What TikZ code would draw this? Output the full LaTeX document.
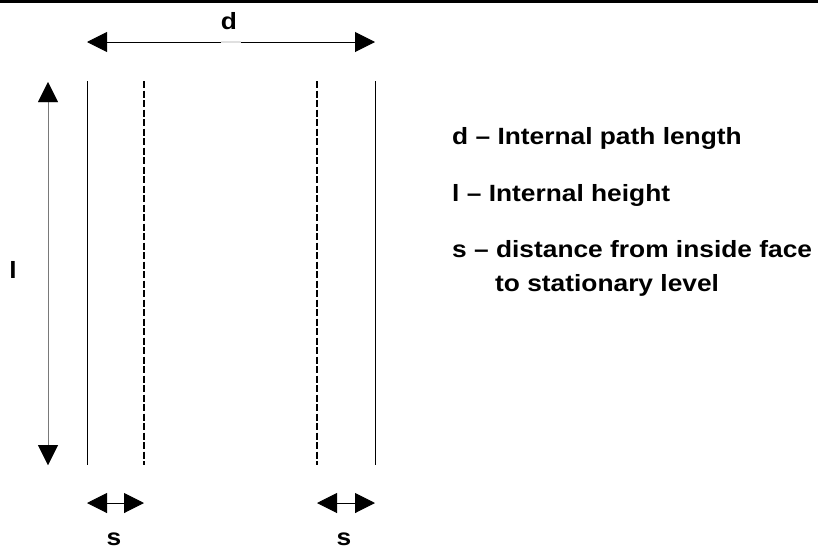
\documentclass[tikz,border=0pt]{standalone}
\usepackage{fontspec}
\setmainfont{Liberation Sans}
\newfontfamily\lgdfont[FakeStretch=1.12]{Liberation Sans}
\usetikzlibrary{arrows.meta}
\begin{document}
\begin{tikzpicture}[x=1pt,y=-1pt,
  txt/.style={font=\lgdfont\fontsize{23.5}{28}\selectfont\bfseries, inner sep=0pt, anchor=base west},
  lbl/.style={font=\lgdfont\fontsize{23.5}{28}\selectfont\bfseries, inner sep=0pt, anchor=base},
  dim/.style={{Triangle[length=20pt,width=20pt]}-{Triangle[length=20pt,width=20pt]}, line width=1pt},
  wall/.style={line width=1pt},
  stat/.style={line width=1.4pt, dash pattern=on 7pt off 2.5pt}]
\useasboundingbox (0,0) rectangle (818,549);
% top rule
\draw[line width=3pt] (0,1.5) -- (818,1.5);
% coordinates
\coordinate (dL) at (87,42);
\coordinate (dR) at (375,42);
\coordinate (lT) at (48,82);
\coordinate (lB) at (48,465);
\coordinate (w1t) at (87,81);  \coordinate (w1b) at (87,465);
\coordinate (s1t) at (144,81); \coordinate (s1b) at (144,465);
\coordinate (s2t) at (317,81); \coordinate (s2b) at (317,465);
\coordinate (w2t) at (375,81); \coordinate (w2b) at (375,465);
\coordinate (a1) at (87,503);  \coordinate (a2) at (144,503);
\coordinate (b1) at (317,503); \coordinate (b2) at (375,503);
% walls and stationary levels
\draw[wall] (w1t) -- (w1b);
\draw[wall] (w2t) -- (w2b);
\draw[stat] (s1t) -- (s1b);
\draw[stat] (s2t) -- (s2b);
% dimension arrows
\draw[dim] (dL) -- (dR);
\fill[black!12] (221,41.4) rectangle (241,42.6);
\draw[dim, draw=gray!95!black] (lT) -- (lB);
\fill (lT) -- ++(-10,20) -- ++(20,0) -- cycle;
\fill (lB) -- ++(-10,-20) -- ++(20,0) -- cycle;
\draw[dim] (a1) -- (a2);
\draw[dim] (b1) -- (b2);
% labels
\node[lbl] (dlab) at (229,29) {d};
\node[lbl] (llab) at (13,278) {l};
\node[lbl] (s1lab) at (114,545) {s};
\node[lbl] (s2lab) at (344,545) {s};
% legend
\node[txt] (t1) at (452,144) {d – Internal path length};
\node[txt] (t2) at (452,201) {l – Internal height};
\node[txt] (t3) at (452,257.5) {s – distance from inside face};
\node[txt] (t4) at (495,291) {to stationary level};
\end{tikzpicture}
\end{document}
